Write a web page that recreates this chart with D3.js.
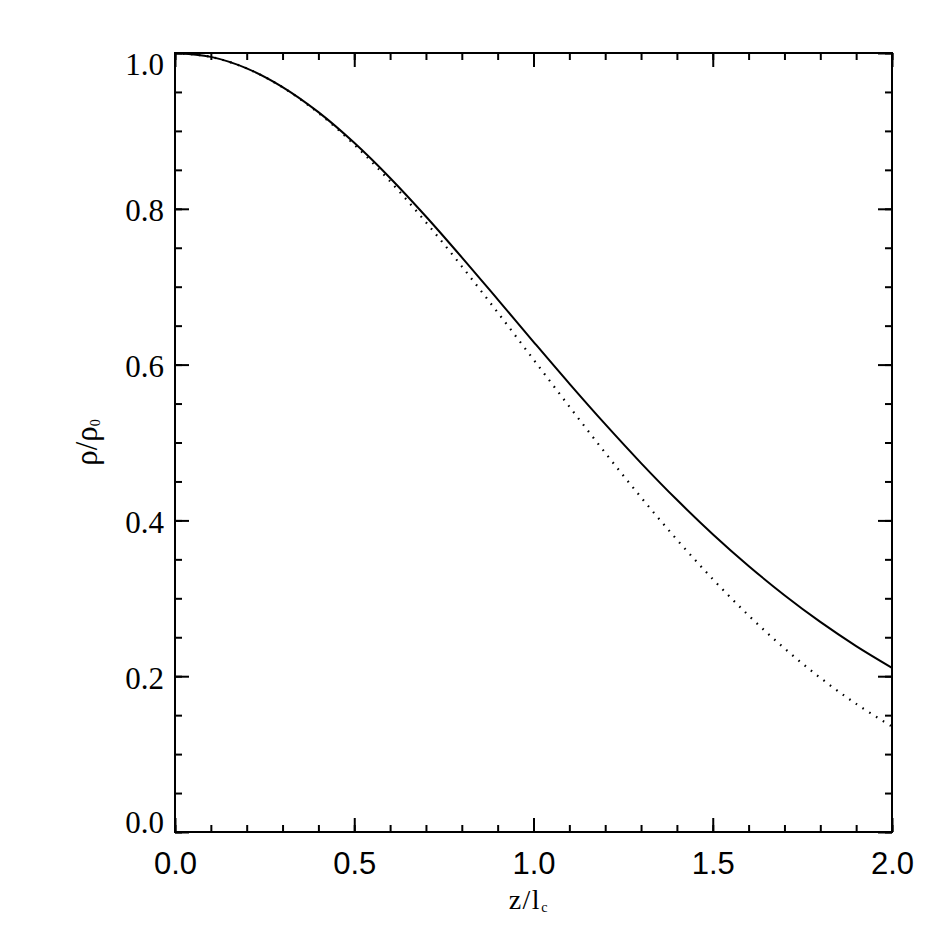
<!DOCTYPE html>
<html>
<head>
<meta charset="utf-8">
<script src="https://cdn.jsdelivr.net/npm/d3@7"></script>
<style>
  html, body { margin: 0; padding: 0; background: #fff; }
  svg { display: block; }
</style>
</head>
<body>
<svg id="chart" width="943" height="943"></svg>
<script>
// ---- data ----
const zValues = [0.0, 0.1, 0.2, 0.3, 0.4, 0.5, 0.6, 0.7, 0.8, 0.9, 1.0,
                 1.1, 1.2, 1.3, 1.4, 1.5, 1.6, 1.7, 1.8, 1.9, 2.0];
const solidRho = [1.0000, 0.9950, 0.9803, 0.9563, 0.9241, 0.8847, 0.8396, 0.7901, 0.7377, 0.6837, 0.6293,
                  0.5756, 0.5235, 0.4736, 0.4264, 0.3823, 0.3415, 0.3040, 0.2697, 0.2387, 0.2108];
const dottedRho = [1.0000, 0.9950, 0.9802, 0.9560, 0.9231, 0.8825, 0.8353, 0.7827, 0.7261, 0.6670, 0.6065,
                   0.5461, 0.4868, 0.4296, 0.3753, 0.3247, 0.2780, 0.2357, 0.1979, 0.1645, 0.1353];
const xMajorTicks = [0.0, 0.5, 1.0, 1.5, 2.0];
const xMinorTicks = d3.range(0, 21).map(i => i / 10);
const yMajorTicks = [0.0, 0.2, 0.4, 0.6, 0.8, 1.0];
const yMinorTicks = d3.range(0, 21).map(i => i / 20);
const xTickLabels = ["0.0", "0.5", "1.0", "1.5", "2.0"];
const yTickLabels = ["0.0", "0.2", "0.4", "0.6", "0.8", "1.0"];

// ---- layout ----
const L = 175, R = 892, T = 53, B = 832;
const svg = d3.select("#chart");
const x = d3.scaleLinear().domain([0, 2]).range([L, R]);
const y = d3.scaleLinear().domain([0, 1]).range([B, T]);

const majorLen = 14, minorLen = 7;

function styleAxis(g) {
  g.select(".domain").remove();
  g.selectAll(".tick line").attr("stroke", "#000").attr("stroke-width", 2);
}

// bottom axis: minor + major ticks with labels
svg.append("g").attr("transform", `translate(0,${B})`)
  .call(d3.axisBottom(x).tickValues(xMinorTicks).tickSizeInner(-minorLen).tickSizeOuter(0).tickFormat(""))
  .call(styleAxis);
const xAx = svg.append("g").attr("transform", `translate(0,${B})`)
  .call(d3.axisBottom(x).tickValues(xMajorTicks).tickSizeInner(-majorLen).tickSizeOuter(0)
        .tickPadding(20).tickFormat((d, i) => xTickLabels[i]))
  .call(styleAxis);
xAx.selectAll(".tick text")
  .attr("font-family", "'Liberation Sans', Arial, sans-serif")
  .attr("font-size", 31).attr("fill", "#000").attr("dy", "0.71em");

// top axis (ticks only)
svg.append("g").attr("transform", `translate(0,${T})`)
  .call(d3.axisTop(x).tickValues(xMinorTicks).tickSizeInner(-minorLen).tickSizeOuter(0).tickFormat(""))
  .call(styleAxis);
svg.append("g").attr("transform", `translate(0,${T})`)
  .call(d3.axisTop(x).tickValues(xMajorTicks).tickSizeInner(-majorLen).tickSizeOuter(0).tickFormat(""))
  .call(styleAxis);

// left axis
svg.append("g").attr("transform", `translate(${L},0)`)
  .call(d3.axisLeft(y).tickValues(yMinorTicks).tickSizeInner(-minorLen).tickSizeOuter(0).tickFormat(""))
  .call(styleAxis);
const yAx = svg.append("g").attr("transform", `translate(${L},0)`)
  .call(d3.axisLeft(y).tickValues(yMajorTicks).tickSizeInner(-majorLen).tickSizeOuter(0)
        .tickPadding(11).tickFormat((d, i) => yTickLabels[i]))
  .call(styleAxis);
yAx.selectAll(".tick text")
  .attr("font-family", "'Liberation Serif', 'Times New Roman', serif")
  .attr("font-size", 31).attr("fill", "#000")
  .attr("dy", d => d === 1 ? 21 : (d === 0 ? 0 : 12));

// right axis
svg.append("g").attr("transform", `translate(${R},0)`)
  .call(d3.axisRight(y).tickValues(yMinorTicks).tickSizeInner(-minorLen).tickSizeOuter(0).tickFormat(""))
  .call(styleAxis);
svg.append("g").attr("transform", `translate(${R},0)`)
  .call(d3.axisRight(y).tickValues(yMajorTicks).tickSizeInner(-majorLen).tickSizeOuter(0).tickFormat(""))
  .call(styleAxis);

// frame
svg.append("rect").attr("x", L).attr("y", T).attr("width", R - L).attr("height", B - T)
  .attr("fill", "none").attr("stroke", "#000").attr("stroke-width", 2);

// curves
const line = d3.line().x(d => x(d[0])).y(d => y(d[1])).curve(d3.curveCatmullRom.alpha(0.5));
svg.append("path").datum(zValues.map((z, i) => [z, dottedRho[i]]))
  .attr("d", line).attr("fill", "none").attr("stroke", "#000")
  .attr("stroke-width", 2.2).attr("stroke-dasharray", "1.6,6.4");
svg.append("path").datum(zValues.map((z, i) => [z, solidRho[i]]))
  .attr("d", line).attr("fill", "none").attr("stroke", "#000").attr("stroke-width", 2);

// axis titles
const xt = svg.append("text").attr("x", 528).attr("y", 909)
  .attr("text-anchor", "middle")
  .attr("font-family", "'Liberation Serif', 'Times New Roman', serif")
  .attr("font-size", 28).attr("fill", "#000");
xt.append("tspan").attr("letter-spacing", 1.5).text("z/l");
xt.append("tspan").attr("font-size", 14).attr("dy", 3).text("c");

const yt = svg.append("text").attr("transform", `translate(97,${(T + B) / 2}) rotate(-90)`)
  .attr("text-anchor", "middle")
  .attr("font-family", "'Liberation Serif', 'Times New Roman', serif")
  .attr("font-size", 31).attr("fill", "#000");
yt.append("tspan").text("ρ/ρ");
yt.append("tspan").attr("font-size", 14).attr("dy", 3).text("0");
</script>
</body>
</html>
